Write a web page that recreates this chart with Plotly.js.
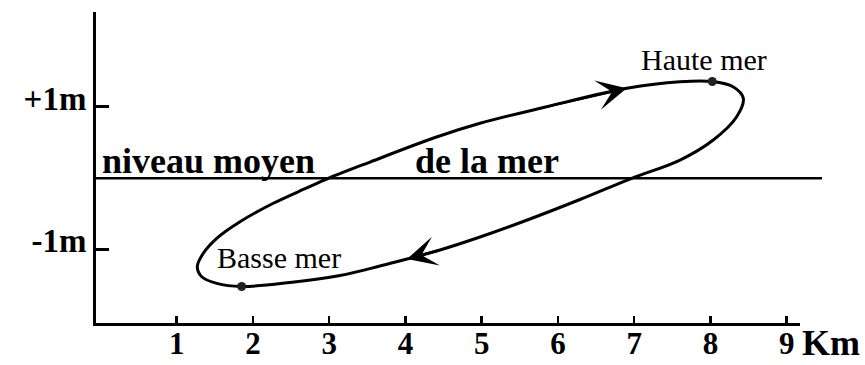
<!DOCTYPE html>
<html><head><meta charset="utf-8">
<script src="https://cdn.plot.ly/plotly-3.0.1.min.js"></script>
<style>html,body{margin:0;padding:0;background:#fff}#chart{width:865px;height:365px}</style>
</head><body><div id="chart"></div>
<script>
// Tidal ellipse: horizontal excursion (km) vs water height (m)
const distanceKm = [1.852, 1.525, 1.328, 1.270, 1.349, 1.525, 1.830, 2.267, 2.705, 2.988,
  3.535, 4.388, 4.978, 5.852, 6.902, 7.601, 8.024, 8.296, 8.431, 8.344,
  8.037, 7.601, 6.967, 6.289, 5.633, 4.978, 4.453, 4.020, 3.665, 3.142,
  2.486, 1.852];
const heightM = [-1.516, -1.472, -1.379, -1.239, -1.051, -0.841, -0.608, -0.350, -0.135, 0.000,
  0.228, 0.572, 0.771, 1.003, 1.261, 1.354, 1.357, 1.284, 1.121, 0.863,
  0.537, 0.256, 0.000, -0.297, -0.570, -0.823, -1.005, -1.132, -1.230, -1.363,
  -1.461, -1.516];
const eventIndex = [16, 0];
const eventLabels = ['Haute mer', 'Basse mer'];
const arrowTipIndex = [14, 27];
const xTickVals = [1, 2, 3, 4, 5, 6, 7, 8, 9];
const xTickText = ['1', '2', '3', '4', '5', '6', '7', '8', '9'];
const yTickVals = [1, -1];
const yTickText = ['+1m', '-1m'];
const meanLevel = 0;
const meanLabels = ['niveau moyen', 'de la mer'];
const xUnit = 'Km';

const SERIF = 'Liberation Serif, Times New Roman, serif';

const traces = [
  {
    x: distanceKm, y: heightM, type: 'scatter', mode: 'lines',
    line: {color: '#000', width: 3, shape: 'spline', smoothing: 1},
    hoverinfo: 'skip', showlegend: false
  },
  {
    x: eventIndex.map(i => distanceKm[i]), y: eventIndex.map(i => heightM[i]),
    type: 'scatter', mode: 'markers',
    marker: {color: '#222', size: 9},
    hoverinfo: 'skip', showlegend: false
  }
];

const annotations = [];
// direction arrows on the curve
arrowTipIndex.forEach(i => {
  annotations.push({
    x: distanceKm[i], y: heightM[i], xref: 'x', yref: 'y',
    ax: distanceKm[i - 1], ay: heightM[i - 1], axref: 'x', ayref: 'y',
    text: '', showarrow: true, arrowhead: 3, arrowsize: 2, arrowwidth: 2.5,
    arrowcolor: '#000', standoff: 0, startstandoff: 0
  });
});
// event labels
const eventShift = [[-8, 22], [37, 29]];
eventIndex.forEach((i, k) => {
  annotations.push({
    x: distanceKm[i], y: heightM[i], xref: 'x', yref: 'y',
    text: eventLabels[k], showarrow: false,
    xanchor: 'center', yanchor: 'middle',
    xshift: eventShift[k][0], yshift: eventShift[k][1],
    font: {family: SERIF, size: 30, color: '#000'}
  });
});
// mean sea level labels
annotations.push({
  x: 0, xref: 'paper', y: meanLevel, yref: 'y', text: meanLabels[0], showarrow: false,
  xanchor: 'left', yanchor: 'middle', xshift: 4, yshift: 17,
  font: {family: SERIF, size: 36, color: '#000', weight: 'bold'}
});
annotations.push({
  x: 4.1, xref: 'x', y: meanLevel, yref: 'y', text: meanLabels[1], showarrow: false,
  xanchor: 'left', yanchor: 'middle', yshift: 17,
  font: {family: SERIF, size: 36, color: '#000', weight: 'bold'}
});
// axis unit
annotations.push({
  x: 1, xref: 'paper', y: 0, yref: 'paper', text: xUnit, showarrow: false,
  xanchor: 'left', yanchor: 'middle', xshift: 0, yshift: -20,
  font: {family: SERIF, size: 36, color: '#000', weight: 'bold'}
});

const layout = {
  width: 865, height: 365,
  margin: {l: 96, r: 65, t: 12, b: 42, pad: 0},
  paper_bgcolor: '#fff', plot_bgcolor: '#fff',
  showlegend: false,
  xaxis: {
    range: [-0.0584, 9.1744], showgrid: false, zeroline: false,
    showline: true, linecolor: '#000', linewidth: 3,
    ticks: 'inside', ticklen: 7, tickwidth: 2.5, tickcolor: '#000',
    tickvals: xTickVals, ticktext: xTickText,
    tickfont: {family: SERIF, size: 31, color: '#000', weight: 'bold'},
    ticklabelstandoff: -9,
    fixedrange: true
  },
  yaxis: {
    range: [-2.028, 2.331], showgrid: false, zeroline: false,
    showline: true, linecolor: '#000', linewidth: 3,
    ticks: 'inside', ticklen: 13, tickwidth: 3, tickcolor: '#000',
    tickvals: yTickVals, ticktext: yTickText,
    tickfont: {family: SERIF, size: 33, color: '#000', weight: 'bold'},
    ticklabelshift: -9,
    fixedrange: true
  },
  shapes: [{
    type: 'line', xref: 'paper', yref: 'y', x0: 0, x1: 1.03125, y0: meanLevel, y1: meanLevel,
    line: {color: '#000', width: 2.5}, layer: 'below'
  }],
  annotations: annotations
};

Plotly.newPlot('chart', traces, layout, {displayModeBar: false, staticPlot: true});
</script>
</body></html>
